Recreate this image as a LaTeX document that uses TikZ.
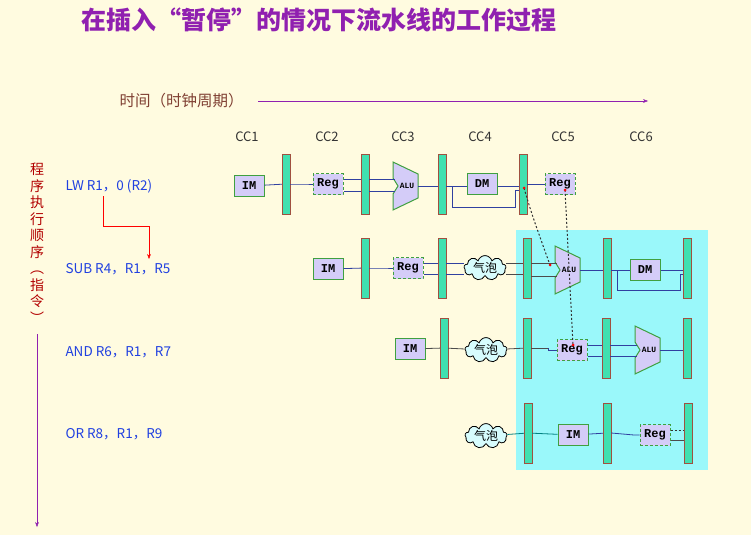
\documentclass[tikz,border=0pt]{standalone}
\usepackage{fontspec}
\newfontfamily\cjk{Noto Sans CJK SC}
\newfontfamily\mono{Liberation Mono}
\usetikzlibrary{shapes.symbols,arrows.meta}
\definecolor{bgy}{HTML}{FFFBE0}
\definecolor{cy}{HTML}{9AF8FA}
\definecolor{barf}{HTML}{40E0B0}
\definecolor{barb}{HTML}{A05040}
\definecolor{lav}{HTML}{D4CCF8}
\definecolor{grn}{HTML}{40A040}
\definecolor{wire}{HTML}{3040A0}
\definecolor{purp}{HTML}{9020B0}
\definecolor{ins}{HTML}{2040E0}
\tikzset{
 pbar/.style={draw=barb,fill=barf,minimum width=8pt,minimum height=60pt,inner sep=0pt},
 box/.style={draw=grn,fill=lav,line width=1pt,minimum width=30pt,minimum height=21pt,inner sep=0pt,font=\mono\bfseries\fontsize{12}{12}\selectfont},
 reg/.style={box,dash pattern=on 3pt off 2pt},
 bub/.style={cloud,cloud puffs=9,draw=black,fill=cy!40,line width=0.8pt,minimum width=42pt,minimum height=24pt,inner sep=0pt,font=\cjk\fontsize{12}{12}\selectfont,aspect=2},
 w/.style={draw=wire,line width=0.8pt},
 ins/.style={anchor=west,text=ins,font=\cjk\fontsize{13.5}{13.5}\selectfont},
 cc/.style={font=\cjk\fontsize{13}{13}\selectfont,text=black!80},
 dep/.style={dash pattern=on 2pt off 2pt,line width=1pt,draw=black!80}
}
\newcommand{\alu}[3]{% name, xleft, ycenter
 \draw[draw=grn,fill=lav,line width=1pt] (#2,#3-24) -- (#2+25,#3-12) -- (#2+25,#3+12) -- (#2,#3+24) -- (#2,#3+8) -- (#2+5,#3) -- (#2,#3-8) -- cycle;
 \node[font=\mono\bfseries\fontsize{8}{8}\selectfont,inner sep=0pt] (#1) at (#2+14,#3) {ALU};
 \coordinate (#1w) at (#2,#3); \coordinate (#1e) at (#2+25,#3);}
\begin{document}
\begin{tikzpicture}[x=1pt,y=-1pt]
\fill[bgy] (0,0) rectangle (751,535);
\useasboundingbox (0,0) rectangle (751,535);
\fill[cy] (516,230) rectangle (708,470);
\node[font=\cjk\bfseries\fontsize{25}{25}\selectfont,text=purp,anchor=west] (title) at (78,20) {在插入“暂停”的情况下流水线的工作过程};
\node[font=\cjk\fontsize{15.5}{15.5}\selectfont,text=barb!80!black,anchor=west] (time) at (116,101) {时间（时钟周期）};
\coordinate (tend) at (648,101);
\draw[purp,-{Stealth[length=5pt]}] (258,101) -- (tend);
\node[font=\cjk\fontsize{14}{16.5}\selectfont,text=red!70!black,align=center,inner sep=0pt] (order) at (37,243) {程\\序\\执\\行\\顺\\序\\︵\\指\\令\\︶};
\coordinate (oend) at (37,527);
\draw[purp,-{Stealth[length=5pt]}] (37,334) -- (oend);
\foreach \n/\x in {CC1/247,CC2/327,CC3/403,CC4/480,CC5/563,CC6/641}
  \node[cc] (\n) at (\x,137) {\n};
\node[ins] (i1) at (62,186) {LW R1，0 (R2)};
\node[ins] (i2) at (62,269) {SUB R4，R1，R5};
\node[ins] (i3) at (62,352) {AND R6，R1，R7};
\node[ins] (i4) at (62,434) {OR R8，R1，R9};
\coordinate (ra) at (103,196); \coordinate (rb) at (149,259);
\draw[red,-{Stealth[length=5pt]}] (ra) |- (149,226) -- (rb);
% row 1
\node[box] (im1) at (249,186) {IM};
\node[pbar] (b11) at (286,184) {};
\node[reg] (rg1) at (328,184) {Reg};
\node[pbar] (b12) at (365,184) {};
\alu{alu1}{393}{186}
\node[pbar] (b13) at (442,184) {};
\node[box] (dm1) at (482,184) {DM};
\node[pbar] (b14) at (523,184) {};
\node[reg] (rg1b) at (560,184) {Reg};
\draw[w] (im1) -- (b11);
\draw[w] (b11.east) -- (305,184) |- (rg1.west);
\draw[w] (rg1.east|-0,179) -- (b12.west|-0,179);
\draw[w] (rg1.east|-0,191) -- (b12.west|-0,191);
\draw[w] (b12.east|-0,179) -- (395,179);
\draw[w] (b12.east|-0,191) -- (395,191);
\draw[w] (alu1e) -- (b13.west|-alu1e);
\draw[w] (b13.east|-0,186) -- (dm1.west|-0,186);
\draw[w] (dm1.east|-0,186) -- (b14.west|-0,186);
\draw[w] (452,186) |- (515,207) -- (515,190) -- (b14.west|-0,190);
\draw[w] (b14) -- (rg1b);
% row 2
\node[box] (im2) at (328,269) {IM};
\node[pbar] (b21) at (365,268) {};
\node[reg] (rg2) at (408,268) {Reg};
\node[pbar] (b22) at (442,268) {};
\node[bub] (bu2) at (485,268) {气泡};
\node[pbar] (b23) at (527,268) {};
\alu{alu2}{555}{270}
\node[pbar] (b24) at (607,268) {};
\node[box] (dm2) at (645,270) {DM};
\node[pbar] (b25) at (687,268) {};
\draw[w] (im2) -- (b21);
\draw[w] (b21.east) -- (384,268) |- (rg2.west);
\draw[w] (rg2.east|-0,263) -- (b22.west|-0,263);
\draw[w] (rg2.east|-0,274) -- (b22.west|-0,274);
\draw[w] (b22.east|-0,263) -- (bu2.west|-0,263);
\draw[w] (b22.east|-0,274) -- (bu2.west|-0,274);
\draw[black!70,line width=0.8pt] (bu2.east|-0,263) -- (b23.west|-0,263);
\draw[black!70,line width=0.8pt] (bu2.east|-0,274) -- (b23.west|-0,274);
\draw[black!70,line width=0.8pt] (b23.east|-0,263) -- (557,263);
\draw[black!70,line width=0.8pt] (b23.east|-0,276) -- (557,276);
\draw[w] (alu2e) -- (b24.west|-alu2e);
\draw[w] (b24.east|-0,270) -- (dm2.west);
\draw[w] (dm2.east) -- (b25.west|-dm2.east);
\draw[w] (617,270) |- (680,290) -- (680,274) -- (b25.west|-0,274);
% row 3
\node[box] (im3) at (410,349) {IM};
\node[pbar] (b31) at (444,348) {};
\node[bub] (bu3) at (486,350) {气泡};
\node[pbar] (b32) at (527,348) {};
\node[reg] (rg3) at (572,350) {Reg};
\node[pbar] (b33) at (606,348) {};
\alu{alu3}{635}{350}
\node[pbar] (b34) at (687,348) {};
\draw[black!70,line width=0.8pt] (im3) -- (b31) -- (bu3) -- (b32);
\draw[black!70,line width=0.8pt] (b32.east) -- (548,348);
\draw[w] (548,348) |- (rg3.west);
\draw[w] (rg3.east|-0,345) -- (b33.west|-0,345);
\draw[w] (rg3.east|-0,356) -- (b33.west|-0,356);
\draw[w] (b33.east|-0,345) -- (637,345);
\draw[w] (b33.east|-0,356) -- (637,356);
\draw[w] (alu3e) -- (b34.west|-alu3e);
% row 4
\node[bub] (bu4) at (486,436) {气泡};
\node[pbar] (b41) at (528,433) {};
\node[box] (im4) at (573,435) {IM};
\node[pbar] (b42) at (607,433) {};
\node[reg] (rg4) at (655,435) {Reg};
\node[pbar] (b43) at (688,433) {};
\draw[teal,line width=0.8pt] (bu4) -- (b41) -- (im4);
\draw[w] (im4) -- (b42);
\draw[w] (b42.east) -- (634,435) |- (rg4.west);
\draw[black!70,line width=0.8pt] (rg4.east|-0,440) -- (b43.west|-0,440);
\draw[dep] (rg4.east|-0,430) -- (b43.west|-0,430);
% dependencies
\coordinate (d1) at (524,188); \coordinate (d2) at (550,265);
\coordinate (d3) at (565,190); \coordinate (d4) at (573,345);
\draw[dep] (d1) .. controls (532,215) .. (d2);
\draw[dep] (d3) -- (d4);
\fill[red] (d1) circle (1.5pt) (d2) circle (1.5pt) (d3) circle (1.5pt) (d4) circle (1.5pt);
\end{tikzpicture}
\end{document}
